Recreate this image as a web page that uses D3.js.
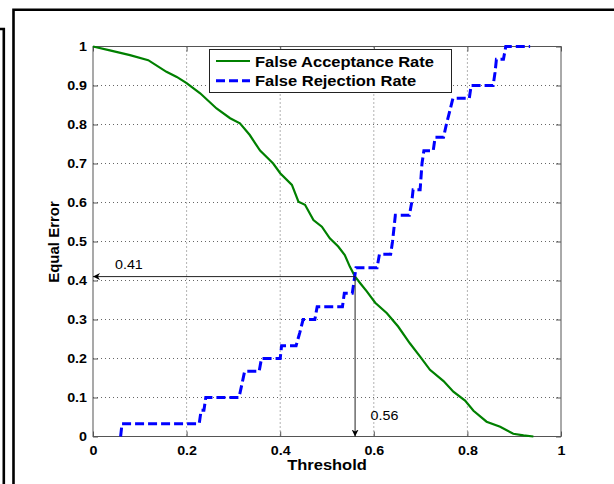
<!DOCTYPE html>
<meta charset="utf-8">
<script src="https://d3js.org/d3.v7.min.js"></script>
<style>
  body { margin: 0; background: #fff; }
  text { font-family: "Liberation Sans", Arial, sans-serif; }
</style>
<div id="vis"></div>
<script type="text/javascript">

// threshold / false acceptance rate
var farT = [0, 0.036, 0.079, 0.118, 0.157, 0.179, 0.2, 0.229, 0.264, 0.293, 0.314, 0.335, 0.357, 0.385, 0.4, 0.425,
            0.439, 0.453, 0.471, 0.489, 0.506, 0.524, 0.538, 0.549, 0.56, 0.571, 0.585, 0.603, 0.628, 0.652, 0.677,
            0.699, 0.72, 0.749, 0.77, 0.795, 0.813, 0.841, 0.87, 0.898, 0.92, 0.941];
var farV = [1, 0.99, 0.978, 0.965, 0.935, 0.922, 0.906, 0.88, 0.841, 0.816, 0.803, 0.773, 0.733, 0.7, 0.675, 0.645,
            0.602, 0.594, 0.555, 0.538, 0.508, 0.487, 0.465, 0.435, 0.41, 0.393, 0.372, 0.343, 0.316, 0.282, 0.239,
            0.205, 0.171, 0.142, 0.115, 0.092, 0.066, 0.038, 0.025, 0.007, 0.003, 0];

// threshold / false rejection rate (steps of 1/30)
var frrT = [0.059, 0.062, 0.227, 0.231, 0.237, 0.241, 0.312, 0.318, 0.324, 0.355, 0.36, 0.4, 0.403, 0.434, 0.442,
            0.449, 0.474, 0.479, 0.533, 0.537, 0.554, 0.558, 0.562, 0.607, 0.612, 0.636, 0.64, 0.643, 0.646, 0.676,
            0.681, 0.684, 0.699, 0.703, 0.707, 0.727, 0.731, 0.749, 0.755, 0.762, 0.769, 0.804, 0.808, 0.855, 0.859,
            0.862, 0.877, 0.882, 0.934];
var frrV = [0, 0.033, 0.033, 0.067, 0.067, 0.1, 0.1, 0.133, 0.167, 0.167, 0.2, 0.2, 0.233, 0.233, 0.267,
            0.3, 0.3, 0.333, 0.333, 0.367, 0.367, 0.4, 0.433, 0.433, 0.467, 0.467, 0.5, 0.533, 0.567, 0.567,
            0.6, 0.633, 0.633, 0.7, 0.733, 0.733, 0.767, 0.767, 0.8, 0.833, 0.867, 0.867, 0.9, 0.9, 0.933,
            0.967, 0.967, 1, 1];

var xTicks = [0, 0.2, 0.4, 0.6, 0.8, 1];
var yTicks = [0, 0.1, 0.2, 0.3, 0.4, 0.5, 0.6, 0.7, 0.8, 0.9, 1];
var seriesNames = ["False Acceptance Rate", "False Rejection Rate"];
var eer = {t: 0.56, v: 0.41};

var W = 614, H = 484;
var plot = {left: 93, right: 561, top: 46.5, bottom: 436.5};
var sx = 1.1; // the picture is stretched a bit horizontally

var svg = d3.select("#vis").append("svg")
  .attr("width", W)
  .attr("height", H)
  .style("display", "block");

svg.append("rect").attr("width", W).attr("height", H).attr("fill", "#fff");

var defs = svg.append("defs");
defs.append("marker").attr("id", "arrow")
  .attr("viewBox", "0 0 10 10")
  .attr("refX", 10).attr("refY", 5)
  .attr("markerWidth", 7).attr("markerHeight", 7)
  .attr("markerUnits", "userSpaceOnUse")
  .attr("orient", "auto")
  .append("path")
    .attr("d", "M0,0 L10,5 L0,10 L3,5 Z")
    .attr("fill", "#000");

// outer frames around the figure
svg.append("path")
  .attr("d", "M13.5," + H + " L13.5,9.8 L" + W + ",9.8")
  .attr("fill", "none").attr("stroke", "#000").attr("stroke-width", 2.6);
svg.append("path")
  .attr("d", "M0,29 L3.8,29 L3.8," + H)
  .attr("fill", "none").attr("stroke", "#000").attr("stroke-width", 2.6);

var x = d3.scaleLinear().domain([0, 1]).range([plot.left, plot.right]);
var y = d3.scaleLinear().domain([0, 1]).range([plot.bottom, plot.top]);

// grid
var grid = svg.append("g").attr("stroke", "#666").attr("stroke-width", 1).attr("stroke-dasharray", "1,3");
grid.selectAll("line.gx").data(xTicks.slice(1, -1)).enter().append("line")
  .attr("x1", d => x(d)).attr("x2", d => x(d))
  .attr("y1", plot.top).attr("y2", plot.bottom);
grid.selectAll("line.gy").data(yTicks.slice(1, -1)).enter().append("line")
  .attr("x1", plot.left).attr("x2", plot.right)
  .attr("y1", d => y(d)).attr("y2", d => y(d));

// axes with inward ticks on all sides
function styleAxis(g) {
  g.select(".domain").remove();
  g.selectAll(".tick line").attr("stroke", "#555");
  g.selectAll(".tick text")
    .attr("font-size", 13).attr("font-weight", "bold").attr("fill", "#000");
}
var fmt = d => d3.format("")(d);

svg.append("g").attr("transform", "translate(0," + plot.bottom + ")")
  .call(d3.axisBottom(x).tickValues(xTicks).tickFormat(fmt).tickSizeInner(-5).tickPadding(9))
  .call(styleAxis)
  .call(g => g.selectAll(".tick text").attr("transform", "scale(" + sx + ",1)")
    .attr("x", 0));
svg.append("g").attr("transform", "translate(0," + plot.top + ")")
  .call(d3.axisTop(x).tickValues(xTicks).tickFormat("").tickSizeInner(-5))
  .call(styleAxis);
svg.append("g").attr("transform", "translate(" + plot.left + ",0)")
  .call(d3.axisLeft(y).tickValues(yTicks).tickFormat(fmt).tickSizeInner(-5).tickPadding(10))
  .call(styleAxis)
  .call(g => g.selectAll(".tick text").attr("transform", "translate(5,0) scale(" + sx + ",1)").attr("x", -10));
svg.append("g").attr("transform", "translate(" + plot.right + ",0)")
  .call(d3.axisRight(y).tickValues(yTicks).tickFormat("").tickSizeInner(-5))
  .call(styleAxis);

svg.append("rect")
  .attr("x", plot.left).attr("y", plot.top)
  .attr("width", plot.right - plot.left).attr("height", plot.bottom - plot.top)
  .attr("fill", "none").attr("stroke", "#555").attr("stroke-width", 1);

// curves
var far = farT.map((t, i) => [t, farV[i]]);
var frr = frrT.map((t, i) => [t, frrV[i]]);
var line = d3.line().x(d => x(d[0])).y(d => y(d[1]));

svg.append("path").datum(far)
  .attr("fill", "none").attr("stroke", "#008000").attr("stroke-width", 2.2)
  .attr("d", line);
svg.append("path").datum(frr)
  .attr("fill", "none").attr("stroke", "#0000ff").attr("stroke-width", 3)
  .attr("stroke-dasharray", "9,4")
  .attr("d", line);

// equal error point annotation
svg.append("line")
  .attr("x1", x(eer.t)).attr("y1", y(eer.v))
  .attr("x2", x(0)).attr("y2", y(eer.v))
  .attr("stroke", "#222").attr("stroke-width", 1)
  .attr("marker-end", "url(#arrow)");
svg.append("line")
  .attr("x1", x(eer.t)).attr("y1", y(eer.v))
  .attr("x2", x(eer.t)).attr("y2", y(0))
  .attr("stroke", "#222").attr("stroke-width", 1)
  .attr("marker-end", "url(#arrow)");

function hText(px, py, str, size, weight, anchor) {
  return svg.append("text")
    .attr("transform", "translate(" + px + "," + py + ") scale(" + sx + ",1)")
    .attr("font-size", size).attr("font-weight", weight)
    .attr("text-anchor", anchor || "start")
    .text(str);
}
hText(x(0.047), 269, d3.format(".2f")(eer.v), 13, "normal");
hText(x(0.593), 420, d3.format(".2f")(eer.t), 13, "normal");

// axis titles
hText((plot.left + plot.right) / 2, 470, "Threshold", 15, "bold", "middle");
svg.append("text")
  .attr("transform", "translate(59,242) rotate(-90)")
  .attr("font-size", 15).attr("font-weight", "bold")
  .attr("text-anchor", "middle")
  .text("Equal Error");

// legend
var leg = svg.append("g");
leg.append("rect")
  .attr("x", 209.5).attr("y", 49.5).attr("width", 242).attr("height", 43)
  .attr("fill", "#fff").attr("stroke", "#222").attr("stroke-width", 1);
var legStyles = [
  {color: "#008000", width: 2.2, dash: null},
  {color: "#0000ff", width: 3, dash: "9,4"}
];
seriesNames.forEach((name, i) => {
  var ly = 61 + i * 19.7;
  leg.append("line")
    .attr("x1", 216).attr("x2", 250).attr("y1", ly).attr("y2", ly)
    .attr("stroke", legStyles[i].color).attr("stroke-width", legStyles[i].width)
    .attr("stroke-dasharray", legStyles[i].dash);
  svg.append("text")
    .attr("transform", "translate(255," + (ly + 5.5) + ") scale(" + sx + ",1)")
    .attr("font-size", 15).attr("font-weight", "bold")
    .text(name);
});

</script>
